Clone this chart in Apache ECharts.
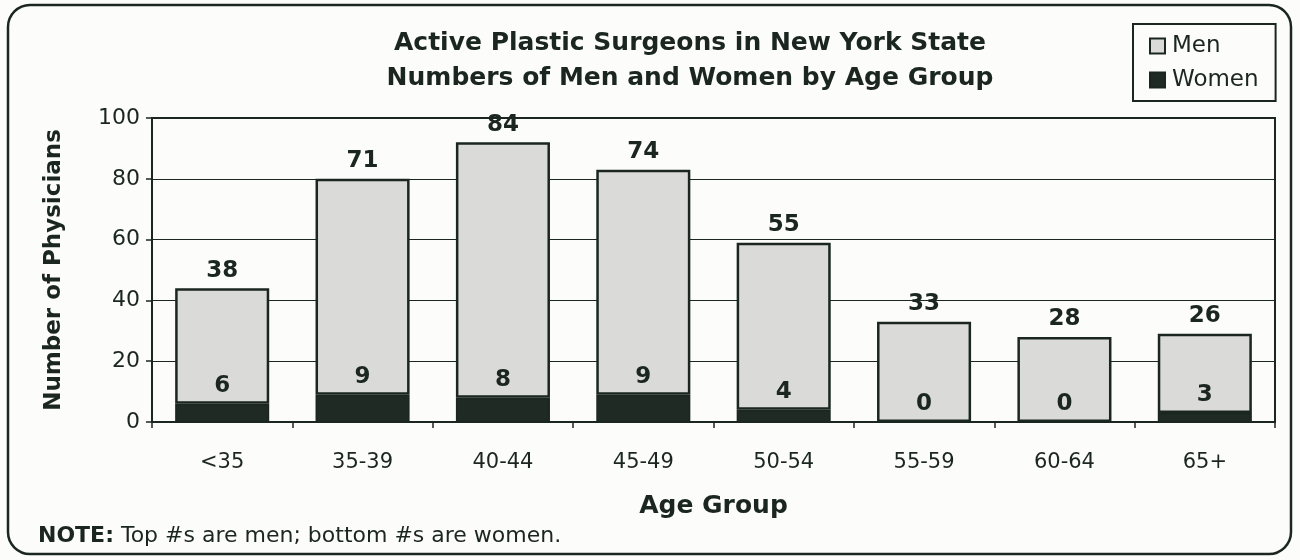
<!DOCTYPE html>
<html>
<head>
<meta charset="UTF-8">
<title>Active Plastic Surgeons in New York State</title>
<script src="https://cdn.jsdelivr.net/npm/echarts@6/dist/echarts.min.js"></script>
<style>
  html, body { margin: 0; padding: 0; background: #fcfcfa; }
</style>
</head>
<body>
<div id="main" style="width: 1300px;height:560px;"></div>

<script type="text/javascript">
// age groups and counts
var ageGroups = ['<35', '35-39', '40-44', '45-49', '50-54', '55-59', '60-64', '65+'];
var women = [6, 9, 8, 9, 4, 0, 0, 3];
var men = [38, 71, 84, 74, 55, 33, 28, 26];
var yTicks = [0, 20, 40, 60, 80, 100];

var ink = '#1b2621';
var font = 'DejaVu Sans';

var myChart = echarts.init(document.getElementById('main'));

var option = {
    backgroundColor: '#fcfcfa',
    textStyle: { fontFamily: font, color: ink },
    title: {
        text: 'Active Plastic Surgeons in New York State\nNumbers of Men and Women by Age Group',
        left: 685,
        top: 21,
        textAlign: 'center',
        textStyle: {
            fontFamily: font,
            fontSize: 25,
            fontWeight: 'bold',
            color: ink,
            lineHeight: 35
        }
    },
    legend: {
        orient: 'vertical',
        left: 1133,
        top: 24,
        padding: [10, 17, 9, 16],
        itemGap: 10,
        itemWidth: 15,
        itemHeight: 15,
        icon: 'rect',
        borderColor: ink,
        borderWidth: 2,
        data: ['Men', 'Women'],
        textStyle: { fontFamily: font, fontSize: 23, color: ink, lineHeight: 24, padding: [0, 0, 0, 2] }
    },
    grid: {
        left: 152,
        right: 25,
        top: 118,
        bottom: 138,
        show: true,
        borderColor: ink,
        borderWidth: 2
    },
    xAxis: {
        type: 'category',
        data: ageGroups,
        name: 'Age Group',
        nameLocation: 'middle',
        nameGap: 72,
        nameTextStyle: { fontFamily: font, fontSize: 25, fontWeight: 'bold', color: ink },
        axisLine: { lineStyle: { color: ink, width: 2 } },
        axisTick: { show: true, length: 6, lineStyle: { color: ink, width: 1.5 } },
        axisLabel: { margin: 30, fontFamily: font, fontSize: 21, color: ink }
    },
    yAxis: {
        type: 'value',
        min: yTicks[0],
        max: yTicks[yTicks.length - 1],
        interval: 20,
        name: 'Number of Physicians',
        nameLocation: 'middle',
        nameGap: 86,
        nameTextStyle: { fontFamily: font, fontSize: 23, fontWeight: 'bold', color: ink },
        axisLine: { show: true, lineStyle: { color: ink, width: 2 } },
        axisTick: { show: true, length: 6, lineStyle: { color: ink, width: 1.5 } },
        axisLabel: { margin: 12, fontFamily: font, fontSize: 22, color: ink },
        splitLine: { show: true, lineStyle: { color: ink, width: 1.2 } }
    },
    series: [{
        name: 'Women',
        type: 'bar',
        stack: 'all',
        barWidth: '67%',
        z: 3,
        data: women,
        itemStyle: { color: '#1f2a25', borderColor: ink, borderWidth: 1.5 },
        label: {
            show: true,
            position: 'top',
            distance: 6,
            fontFamily: font,
            fontSize: 23,
            fontWeight: 'bold',
            color: ink
        }
    }, {
        name: 'Men',
        type: 'bar',
        stack: 'all',
        barWidth: '67%',
        data: men,
        itemStyle: { color: '#dadad8', borderColor: ink, borderWidth: 2.5 },
        label: {
            show: true,
            position: 'top',
            distance: 6,
            fontFamily: font,
            fontSize: 23,
            fontWeight: 'bold',
            color: ink
        }
    }],
    graphic: [{
        type: 'rect',
        shape: { x: 8, y: 5, width: 1283, height: 549, r: 22 },
        style: { fill: 'none', stroke: ink, lineWidth: 2.5 },
        silent: true,
        z: -1
    }, {
        type: 'text',
        left: 38,
        top: 525,
        style: {
            text: '{b|NOTE:} Top #s are men; bottom #s are women.',
            font: '22px DejaVu Sans',
            fill: ink,
            rich: {
                b: { fontFamily: font, fontSize: 22, fontWeight: 'bold', fill: ink }
            }
        }
    }]
};

myChart.setOption(option);
</script>
</body>
</html>
